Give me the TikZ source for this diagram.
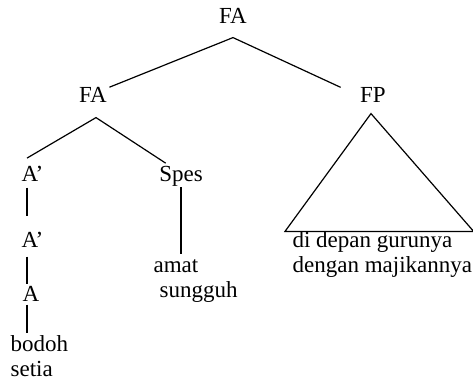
\documentclass[tikz,border=0pt]{standalone}
\usepackage{fontspec}
\setmainfont{Liberation Serif}
\usetikzlibrary{calc}
\begin{document}
\begin{tikzpicture}[x=0.5pt,y=-0.5pt,line width=0.6pt,
	word/.style={inner sep=0pt,anchor=base,font=\fontsize{11.5}{13}\selectfont},
	wordl/.style={word,anchor=base west}]
	\useasboundingbox (0,0) rectangle (473,383);
	\node[word] (fa) at (233,24) {FA};
	\node[word] (fal) at (93,103) {FA};
	\node[word] (fp) at (373,103) {FP};
	\node[wordl] (apa) at (21,182) {A’};
	\node[word] (spes) at (181,182) {Spes};
	\node[wordl] (apb) at (21,248) {A’};
	\node[wordl] (a) at (22,302) {A};
	\node[wordl] (bodoh) at (10,352) {bodoh};
	\node[wordl] (setia) at (10,377) {setia};
	\node[wordl] (amat) at (153,273) {amat};
	\node[wordl] (sungguh) at (159,298) {sungguh};
	\node[wordl] (depan) at (292,248) {di depan gurunya};
	\node[wordl] (majikan) at (292,273) {dengan majikannya};
	\draw ($(fal.north east)+(2,0)$) -- ($(fa.south)+(0,13)$) -- ($(fp.north west)+(-19,0)$);
	\draw ($(apa.north west)+(6,-8)$) -- ($(fal.south)+(3,14)$) -- ($(spes.north west)+(7,-3)$);
	\draw ($(apa.south west)+(6,5)$) -- ($(apb.north west)+(6,-16)$);
	\draw ($(apb.south west)+(6,8)$) -- ($(a.north west)+(5,-2)$);
	\draw ($(a.south west)+(5,2)$) -- ($(bodoh.north west)+(17,-2)$);
	\draw (spes.south) -- ($(spes.south |- amat.north)+(0,-5)$);
	\draw ($(fp.south)+(-2,10)$) -- ($(depan.north west)+(-7,0)$) -- ($(majikan.east |- depan.north)+(1,0)$) -- cycle;
\end{tikzpicture}
\end{document}
